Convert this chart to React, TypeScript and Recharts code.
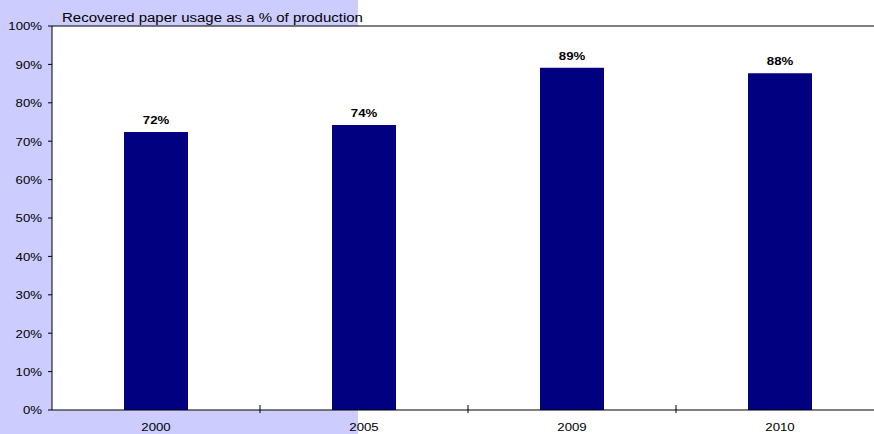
import React from "react";
import {
  BarChart,
  Bar,
  XAxis,
  YAxis,
  CartesianGrid,
  ReferenceLine,
  LabelList,
} from "recharts";

const YEARS = ["2000", "2005", "2009", "2010"];
const USAGE = [72.4, 74.2, 89.1, 87.7];
const Y_TICKS = [0, 10, 20, 30, 40, 50, 60, 70, 80, 90, 100];
const TITLE = "Recovered paper usage as a % of production";

const data = YEARS.map((year, i) => ({ year, value: USAGE[i] }));
const BOUNDARY_YEARS = YEARS.slice(1);

const FONT = '"Liberation Sans", Arial, sans-serif';
const SX = 1.2;

const YTick = (props: any) => {
  const { x, y, payload } = props;
  return (
    <g transform={`translate(${x},${y}) scale(${SX},1)`}>
      <text x={0} y={0} dy="0.4em" textAnchor="end" fontSize={11} fontFamily={FONT} fill="#000">
        {payload.value}%
      </text>
    </g>
  );
};

const XTick = (props: any) => {
  const { x, y, payload } = props;
  return (
    <g transform={`translate(${x},${y}) scale(${SX},1)`}>
      <text x={0} y={0} dy="0.71em" textAnchor="middle" fontSize={11} fontFamily={FONT} fill="#000">
        {payload.value}
      </text>
    </g>
  );
};

const BarLabel = (props: any) => {
  const { x, y, width, value } = props;
  return (
    <g transform={`translate(${x + width / 2},${y - 8}) scale(${SX},1)`}>
      <text x={0} y={0} textAnchor="middle" fontSize={11} fontWeight="bold" fontFamily={FONT} fill="#000">
        {Math.round(value)}%
      </text>
    </g>
  );
};

export default function App() {
  return (
    <div
      style={{
        position: "absolute",
        left: 0,
        top: 0,
        width: 874,
        height: 434,
        overflow: "hidden",
        background: "#fff",
      }}
    >
      <div
        style={{
          position: "absolute",
          left: 0,
          top: 0,
          width: 358,
          height: 434,
          background: "#CCCCFF",
        }}
      />
      <div style={{ position: "absolute", left: 0, top: 0 }}>
        <BarChart
          width={900}
          height={434}
          data={data}
          margin={{ top: 26, right: 16, bottom: 0, left: 0 }}
        >
          <CartesianGrid horizontal={false} vertical={false} fill="#ffffff" stroke="none" />
          <XAxis
            dataKey="year"
            height={24}
            axisLine={{ stroke: "#000", strokeWidth: 1 }}
            tickLine={false}
            tickSize={0}
            tickMargin={13}
            tick={<XTick />}
            interval={0}
          />
          <YAxis
            width={52}
            domain={[0, 100]}
            ticks={Y_TICKS}
            interval={0}
            axisLine={{ stroke: "#000", strokeWidth: 1 }}
            tickLine={{ stroke: "#000" }}
            tickSize={4}
            tickMargin={6}
            tick={<YTick />}
          />
          <ReferenceLine y={100} stroke="#000" strokeWidth={1} ifOverflow="visible" />
          {BOUNDARY_YEARS.map((yr) => (
            <ReferenceLine
              key={yr}
              position="start"
              segment={[
                { x: yr, y: -0.8 },
                { x: yr, y: 1.3 },
              ]}
              stroke="#000"
              strokeWidth={1}
              ifOverflow="visible"
            />
          ))}
          <Bar dataKey="value" fill="#000080" barSize={64} isAnimationActive={false}>
            <LabelList dataKey="value" content={<BarLabel />} />
          </Bar>
        </BarChart>
      </div>
      <svg
        width={874}
        height={434}
        style={{ position: "absolute", left: 0, top: 0, pointerEvents: "none" }}
      >
        <g transform="translate(62,22) scale(1.25,1)">
          <text x={0} y={0} fontSize={12} fontFamily={FONT} fill="#000">
            {TITLE}
          </text>
        </g>
      </svg>
    </div>
  );
}
